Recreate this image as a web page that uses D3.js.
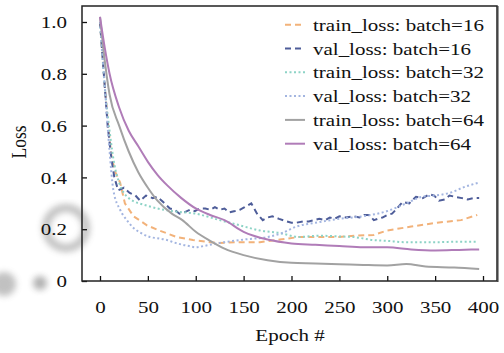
<!DOCTYPE html>
<html>
<head>
<meta charset="utf-8">
<script src="https://cdn.jsdelivr.net/npm/d3@7"></script>
<style>
  body { margin: 0; background: #fff; }
</style>
</head>
<body>
<div id="chart"></div>
<script>
// epochs + values, one pair per series
const epTrain16 = [0,4,8,12,16,21,26,35,49,62,80,97,115,125,146,167,188,208,229,250,268,286,300,325,352,377,394];
const train16 = [1.0,0.8,0.62,0.48,0.42,0.38,0.3,0.25,0.215,0.195,0.17,0.158,0.15,0.147,0.15,0.15,0.16,0.17,0.17,0.17,0.175,0.178,0.195,0.21,0.225,0.235,0.255];

const epVal16 = [0,4,8,12,15,19,25,31,37,42,48,55,60,66,73,78,83,88,94,99,104,110,115,120,125,130,135,141,146,151,158,164,170,175,180,187,195,200,205,212,218,224,229,235,240,245,250,257,264,271,276,281,286,290,295,300,305,309,316,323,330,337,344,349,354,360,365,371,378,384,390,396];
const val16 = [1.0,0.8,0.6,0.47,0.4,0.35,0.36,0.34,0.33,0.31,0.33,0.32,0.325,0.305,0.28,0.275,0.26,0.265,0.275,0.27,0.28,0.28,0.275,0.285,0.275,0.28,0.265,0.27,0.275,0.285,0.3,0.26,0.235,0.245,0.25,0.24,0.23,0.225,0.225,0.23,0.23,0.235,0.24,0.235,0.245,0.24,0.25,0.245,0.25,0.245,0.255,0.255,0.235,0.24,0.245,0.255,0.26,0.275,0.305,0.3,0.325,0.32,0.335,0.33,0.31,0.315,0.33,0.325,0.32,0.315,0.32,0.32];

const epTrain32 = [0,5,10,15,20,30,50,75,100,125,146,167,188,208,229,250,264,286,300,318,352,375,394];
const train32 = [1.0,0.75,0.58,0.45,0.38,0.32,0.29,0.27,0.26,0.235,0.215,0.195,0.185,0.17,0.175,0.172,0.17,0.158,0.155,0.15,0.15,0.152,0.152];

const epVal32 = [0,5,10,14,21,28,35,43,52,60,70,78,86,93,100,108,115,130,150,175,190,205,225,250,275,300,320,336,350,365,382,396];
const val32 = [1.0,0.75,0.5,0.35,0.275,0.235,0.205,0.185,0.17,0.165,0.158,0.148,0.14,0.135,0.13,0.135,0.14,0.15,0.16,0.17,0.185,0.21,0.225,0.24,0.25,0.27,0.3,0.325,0.33,0.34,0.365,0.38];

const epTrain64 = [0,5,10,20,30,40,50,60,75,86,100,115,130,150,175,200,225,250,275,300,320,340,370,396];
const train64 = [1.02,0.85,0.72,0.6,0.5,0.42,0.36,0.31,0.26,0.235,0.19,0.155,0.125,0.1,0.08,0.07,0.068,0.065,0.062,0.06,0.066,0.056,0.052,0.046];

const epVal64 = [0,5,10,20,30,40,50,60,70,85,100,115,130,150,175,200,225,250,275,300,325,350,375,396];
const val64 = [1.02,0.9,0.8,0.67,0.58,0.52,0.46,0.41,0.37,0.32,0.28,0.255,0.235,0.19,0.16,0.145,0.14,0.135,0.13,0.13,0.122,0.118,0.12,0.122];

const seriesNames = ["train_loss: batch=16","val_loss: batch=16","train_loss: batch=32","val_loss: batch=32","train_loss: batch=64","val_loss: batch=64"];
const xTicks = [0,50,100,150,200,250,300,350,400];
const yTicks = [0,0.2,0.4,0.6,0.8,1.0];

const series = [
  { name: seriesNames[0], ep: epTrain16, v: train16, color: "#f2b27a", dash: "6,4", curve: d3.curveLinear },
  { name: seriesNames[1], ep: epVal16, v: val16, color: "#4e5d99", dash: "6,4", curve: d3.curveLinear },
  { name: seriesNames[2], ep: epTrain32, v: train32, color: "#8dd3c6", dash: "2,2.5", curve: d3.curveMonotoneX },
  { name: seriesNames[3], ep: epVal32, v: val32, color: "#a3b5e0", dash: "2,2.5", curve: d3.curveMonotoneX },
  { name: seriesNames[4], ep: epTrain64, v: train64, color: "#a2a2a2", dash: null, curve: d3.curveMonotoneX },
  { name: seriesNames[5], ep: epVal64, v: val64, color: "#b07cb8", dash: null, curve: d3.curveMonotoneX }
];

const W = 504, H = 353;
const box = { left: 82, top: 6, right: 497, bottom: 281 };
const sx = 1.2; // text in the picture is stretched sideways
const FONT = "'Liberation Serif', 'Times New Roman', serif";
const FS = "17.5px";

const svg = d3.select("#chart").append("svg")
  .attr("width", W).attr("height", H)
  .style("font-family", FONT);

// faint blurred blobs bottom-left, as in the scan
const defs = svg.append("defs");
defs.append("filter").attr("id", "blur")
  .append("feGaussianBlur").attr("stdDeviation", 3);
const smudge = svg.append("g").attr("filter", "url(#blur)").attr("opacity", 0.45);
smudge.append("circle").attr("cx", 66).attr("cy", 228).attr("r", 20)
  .attr("fill", "none").attr("stroke", "#777").attr("stroke-width", 8);
smudge.append("circle").attr("cx", 40).attr("cy", 283).attr("r", 7).attr("fill", "#555");
smudge.append("circle").attr("cx", 4).attr("cy", 284).attr("r", 12).attr("fill", "#777");

const x = d3.scaleLinear().domain([0, 400]).range([100, 483]);
const y = d3.scaleLinear().domain([0, 1]).range([281, 22]);

const line = d3.line().x(d => x(d[0])).y(d => y(d[1]));

svg.append("g").selectAll("path")
  .data(series)
  .enter().append("path")
  .attr("d", s => line.curve(s.curve)(s.ep.map((e, i) => [e, s.v[i]])))
  .attr("fill", "none")
  .attr("stroke", s => s.color)
  .attr("stroke-width", 2)
  .attr("stroke-dasharray", s => s.dash);

// axes, ticks pointing inward
const yAxis = svg.append("g")
  .attr("transform", "translate(" + box.left + ",0)")
  .call(d3.axisLeft(y).tickValues(yTicks).tickSize(-5).tickFormat(d => d === 0 ? "0" : d3.format(".1f")(d)));
yAxis.attr("font-family", null).attr("font-size", null);
yAxis.select(".domain").remove();
yAxis.selectAll("line").attr("stroke", "#111").attr("stroke-width", 1.3);
yAxis.selectAll("text")
  .attr("x", -15 / sx).attr("dy", "0.33em")
  .attr("transform", "scale(" + sx + ",1)")
  .style("font-family", FONT).style("font-size", FS).attr("fill", "#111");

const xAxis = svg.append("g")
  .attr("transform", "translate(0," + box.bottom + ")")
  .call(d3.axisBottom(x).tickValues(xTicks).tickSize(-5));
xAxis.attr("font-family", null).attr("font-size", null);
xAxis.select(".domain").remove();
xAxis.selectAll("line").attr("stroke", "#111").attr("stroke-width", 1.3);
xAxis.selectAll("text")
  .attr("y", 32).attr("dy", 0)
  .attr("transform", "scale(" + sx + ",1)")
  .style("font-family", FONT).style("font-size", FS).attr("fill", "#111");

// frame
svg.append("rect")
  .attr("x", box.left).attr("y", box.top)
  .attr("width", box.right - box.left).attr("height", box.bottom - box.top)
  .attr("fill", "none").attr("stroke", "#222").attr("stroke-width", 1.5);
svg.append("line")
  .attr("x1", box.right + 0.8).attr("x2", box.right + 0.8)
  .attr("y1", box.top).attr("y2", box.bottom + 1)
  .attr("stroke", "#444").attr("stroke-width", 1.5);

// axis titles
svg.append("g").attr("transform", "translate(290,341) scale(" + sx + ",1)")
  .append("text").attr("text-anchor", "middle")
  .style("font-family", FONT).style("font-size", FS).attr("fill", "#111").text("Epoch #");
svg.append("g").attr("transform", "translate(26,142) rotate(-90) scale(1," + sx + ")")
  .append("text").attr("text-anchor", "middle")
  .style("font-family", FONT).style("font-size", FS).attr("fill", "#111").text("Loss");

// legend
const legend = svg.append("g").selectAll("g")
  .data(series)
  .enter().append("g")
  .attr("transform", (d, i) => "translate(0," + (30.7 + i * 23.8) + ")");
legend.append("line")
  .attr("x1", 285).attr("x2", 305).attr("y1", -6).attr("y2", -6)
  .attr("stroke", d => d.color).attr("stroke-width", 2)
  .attr("stroke-dasharray", d => d.dash);
legend.append("g").attr("transform", "translate(313,0) scale(" + sx + ",1)")
  .append("text")
  .style("font-family", FONT).style("font-size", FS).attr("fill", "#111")
  .text(d => d.name);
</script>
</body>
</html>
